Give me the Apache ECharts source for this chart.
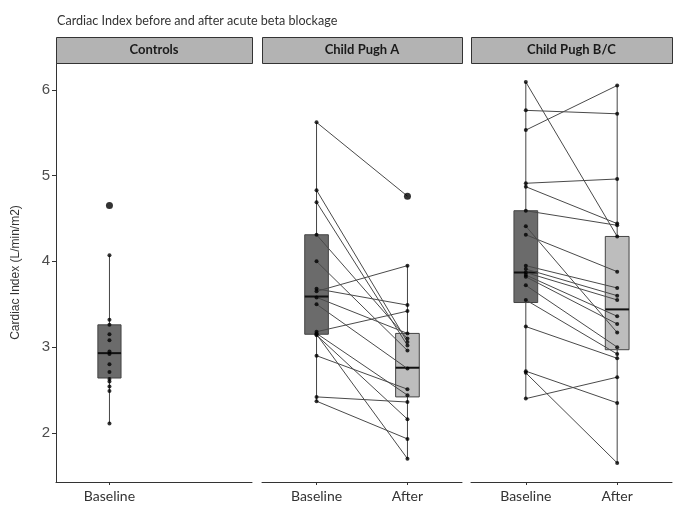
<!DOCTYPE html>
<html><head><meta charset="utf-8">
<script src="https://cdn.jsdelivr.net/npm/echarts@6/dist/echarts.min.js"></script>
<style>html,body{margin:0;padding:0;background:#fff}#c{width:679px;height:505px}</style>
</head><body><div id="c"></div>
<script>
// ---------- data ----------
const chartTitle = 'Cardiac Index before and after acute beta blockage';
const yAxisName = 'Cardiac Index (L/min/m2)';
const panels = ['Controls', 'Child Pugh A', 'Child Pugh B/C'];
const timeLabels = ['Baseline', 'After'];
const yTicks = [2, 3, 4, 5, 6];

const controlsBaseline = [4.65, 4.07, 3.32, 3.26, 3.15, 3.08, 2.95, 2.92, 2.80, 2.71, 2.63, 2.60, 2.54, 2.49, 2.11];

// paired values (same index = same patient)
const aBaseline = [5.62, 4.83, 4.69, 4.31, 4.00, 3.68, 3.65, 3.58, 3.50, 3.18, 3.16, 3.14, 3.15, 2.90, 2.42, 2.37];
const aAfter    = [4.76, 3.06, 3.02, 3.10, 2.96, 3.49, 3.95, 3.16, 2.75, 3.42, 2.44, 2.16, 1.70, 2.51, 2.36, 1.93];

const bcBaseline = [6.09, 5.76, 5.53, 4.91, 4.87, 4.59, 4.41, 4.31, 3.95, 3.91, 3.87, 3.84, 3.82, 3.72, 3.55, 3.24, 2.72, 2.70, 2.40];
const bcAfter    = [4.29, 5.72, 6.05, 4.96, 4.44, 4.42, 3.17, 3.88, 3.69, 3.60, 3.55, 3.36, 3.27, 3.00, 2.92, 2.87, 2.35, 1.65, 2.65];

// box stats: [lower whisker, Q1, median, Q3, upper whisker]
const controlsBox    = [2.11, 2.64, 2.93, 3.26, 4.07];
const aBaselineBox   = [2.37, 3.15, 3.59, 4.31, 5.62];
const aAfterBox      = [1.70, 2.42, 2.76, 3.16, 3.95];
const bcBaselineBox  = [2.40, 3.52, 3.87, 4.59, 6.09];
const bcAfterBox     = [1.65, 2.97, 3.44, 4.29, 6.05];

// ---------- chart ----------
const chart = echarts.init(document.getElementById('c'), null, {renderer: 'canvas'});
const gridTop = 63, gridH = 419;
const grids = [
  {left: 56, top: gridTop, width: 196, height: gridH},
  {left: 262, top: gridTop, width: 200, height: gridH},
  {left: 471, top: gridTop, width: 201, height: gridH}
];
const YMIN = 1.428, YMAX = 6.312;
const textFont = 'Lato, "Open Sans", sans-serif';

const xAxes = grids.map((g, i) => ({
  type: 'value', gridIndex: i, min: 0.4, max: 2.6,
  splitLine: {show: false},
  axisLine: {show: true, onZero: false, lineStyle: {color: '#333', width: 1}},
  axisTick: {show: true, length: 3, lineStyle: {color: '#333'}, customValues: i === 0 ? [1] : [1, 2]},
  axisLabel: {show: true, customValues: i === 0 ? [1] : [1, 2], margin: 7,
    formatter: v => timeLabels[Math.round(v) - 1], color: '#333', fontSize: 14, fontFamily: textFont}
}));
const yAxes = grids.map((g, i) => ({
  type: 'value', gridIndex: i, min: YMIN, max: YMAX,
  splitLine: {show: false},
  axisLine: {show: i === 0, onZero: false, lineStyle: {color: '#333', width: 1}},
  axisTick: {show: i === 0, length: 4, lineStyle: {color: '#333'}, customValues: yTicks},
  axisLabel: {show: i === 0, customValues: yTicks, margin: 6, color: '#4d4d4d', fontSize: 15,
    fontFamily: '"Liberation Sans", Arial, sans-serif'},
  name: i === 0 ? yAxisName : '', nameLocation: 'middle', nameGap: 34,
  nameTextStyle: {color: '#333', fontSize: 12, fontFamily: '"Liberation Sans", Arial, sans-serif'}
}));

const BOX_W = 0.26;
function boxSeries(idx, items) {
  return {
    type: 'custom', xAxisIndex: idx, yAxisIndex: idx, z: 1,
    data: items,
    renderItem: (params, api) => {
      const x = api.value(0);
      const lo = api.coord([x, api.value(1)]), q1 = api.coord([x, api.value(2)]),
            md = api.coord([x, api.value(3)]), q3 = api.coord([x, api.value(4)]),
            hi = api.coord([x, api.value(5)]);
      const l = api.coord([x - BOX_W / 2, api.value(3)])[0], r = api.coord([x + BOX_W / 2, api.value(3)])[0];
      const fill = api.value(6) === 0 ? '#6b6b6b' : '#bdbdbd';
      const ls = {stroke: '#444', lineWidth: 1};
      return {type: 'group', children: [
        {type: 'line', shape: {x1: lo[0], y1: lo[1], x2: q1[0], y2: q1[1]}, style: ls},
        {type: 'line', shape: {x1: q3[0], y1: q3[1], x2: hi[0], y2: hi[1]}, style: ls},
        {type: 'rect', shape: {x: l, y: q3[1], width: r - l, height: q1[1] - q3[1]},
          style: {fill: fill, stroke: '#444', lineWidth: 1}},
        {type: 'line', shape: {x1: l, y1: md[1], x2: r, y2: md[1]}, style: {stroke: '#111', lineWidth: 2}}
      ]};
    }
  };
}
function pairSeries(idx, base, after) {
  return {
    type: 'custom', xAxisIndex: idx, yAxisIndex: idx, z: 2,
    data: base.map((b, k) => [b, after[k]]),
    renderItem: (params, api) => {
      const p1 = api.coord([1, api.value(0)]), p2 = api.coord([2, api.value(1)]);
      return {type: 'line', shape: {x1: p1[0], y1: p1[1], x2: p2[0], y2: p2[1]},
        style: {stroke: '#4a4a4a', lineWidth: 1}};
    }
  };
}
function isOut(v, box) { return v > box[4] + 1e-9 || v < box[0] - 1e-9; }
function pointSeries(idx, pts) {
  return {
    type: 'scatter', xAxisIndex: idx, yAxisIndex: idx, z: 3,
    data: pts.map(p => ({value: [p[0], p[1]], symbolSize: p[2] ? 7 : 4})),
    itemStyle: {color: '#000'}, silent: true
  };
}
const ptsControls = controlsBaseline.map(v => [1, v, isOut(v, controlsBox)]);
const ptsA = aBaseline.map(v => [1, v, isOut(v, aBaselineBox)]).concat(aAfter.map(v => [2, v, isOut(v, aAfterBox)]));
const ptsBC = bcBaseline.map(v => [1, v, isOut(v, bcBaselineBox)]).concat(bcAfter.map(v => [2, v, isOut(v, bcAfterBox)]));

const series = [
  boxSeries(0, [[1].concat(controlsBox, [0])]),
  boxSeries(1, [[1].concat(aBaselineBox, [0]), [2].concat(aAfterBox, [1])]),
  boxSeries(2, [[1].concat(bcBaselineBox, [0]), [2].concat(bcAfterBox, [1])]),
  pairSeries(1, aBaseline, aAfter),
  pairSeries(2, bcBaseline, bcAfter),
  pointSeries(0, ptsControls),
  pointSeries(1, ptsA),
  pointSeries(2, ptsBC)
];

const stripGraphics = [];
grids.forEach((g, i) => {
  stripGraphics.push({type: 'rect', left: g.left, top: 37, z: 10,
    shape: {width: g.width, height: 26}, style: {fill: '#b3b3b3', stroke: '#333', lineWidth: 1}});
  stripGraphics.push({type: 'text', z: 11, x: g.left + g.width / 2, y: 50,
    style: {text: panels[i], fill: '#1a1a1a', font: 'bold 13px ' + textFont, textAlign: 'center', textVerticalAlign: 'middle'}});
});

chart.setOption({
  animation: false,
  backgroundColor: '#fff',
  title: {text: chartTitle, left: 52, top: 9,
    textStyle: {fontSize: 12.6, fontWeight: 'normal', color: '#333', fontFamily: textFont}},
  grid: grids,
  xAxis: xAxes,
  yAxis: yAxes,
  series: series,
  graphic: stripGraphics
});
</script>
</body></html>
